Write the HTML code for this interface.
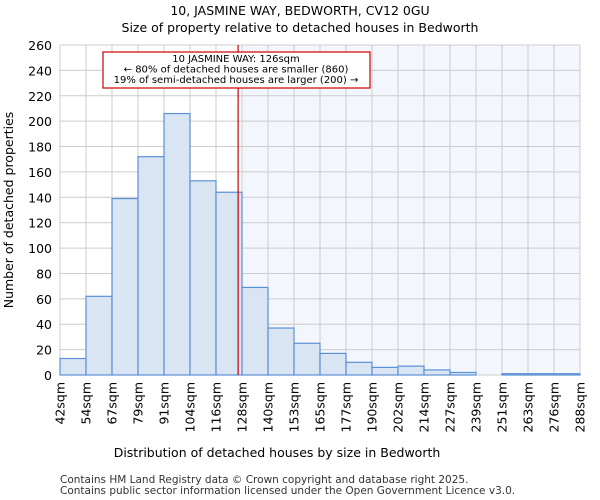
<!DOCTYPE html>
<html><head><meta charset="utf-8"><style>
body{margin:0;background:#fff}
svg{font-family:"DejaVu Sans","Liberation Sans",sans-serif;display:block}
</style></head><body>
<svg id="chart" width="600" height="500" xmlns="http://www.w3.org/2000/svg">
<text x="300" y="15" text-anchor="middle" font-size="12.5">10, JASMINE WAY, BEDWORTH, CV12 0GU</text>
<text x="300" y="32" text-anchor="middle" font-size="12.5">Size of property relative to detached houses in Bedworth</text>
<g id="plot"></g>
<text x="277" y="457" text-anchor="middle" font-size="12.5">Distribution of detached houses by size in Bedworth</text>
<text transform="translate(13,210) rotate(-90)" text-anchor="middle" font-size="12.5">Number of detached properties</text>
<text x="60" y="483" font-size="10.5" fill="#333">Contains HM Land Registry data © Crown copyright and database right 2025.</text>
<text x="60" y="494" font-size="10.5" fill="#333">Contains public sector information licensed under the Open Government Licence v3.0.</text>
</svg>
<script>
const categories=["42sqm","54sqm","67sqm","79sqm","91sqm","104sqm","116sqm","128sqm","140sqm","153sqm","165sqm","177sqm","190sqm","202sqm","214sqm","227sqm","239sqm","251sqm","263sqm","276sqm","288sqm"];
const counts=[13,62,139,172,206,153,144,69,37,25,17,10,6,7,4,2,0,1,1,1];
const yTicks=[0,20,40,60,80,100,120,140,160,180,200,220,240,260];
const propertyBinPos=6.85;
const NS="http://www.w3.org/2000/svg";
const L=60,R=580,T=45,B=375,yMax=260;
const bw=(R-L)/counts.length;
const xs=i=>L+i*bw;
const ys=v=>B-v/yMax*(B-T);
const g=document.getElementById('plot');
function mk(t,a){const e=document.createElementNS(NS,t);for(const k in a)e.setAttribute(k,a[k]);g.appendChild(e);return e;}
const px=xs(propertyBinPos);
let e=mk('rect',{x:xs(7),y:T,width:R-xs(7),height:B-T,fill:'#f3f6fd'});


yTicks.forEach(v=>{
 let l=mk('line',{x1:L,x2:R,y1:ys(v),y2:ys(v),stroke:'#cccccc'});
 
 
 let t=mk('text',{x:L-8,y:ys(v)+5,'text-anchor':'end','font-size':12.5});
 t.textContent=v;
 
 
});
categories.forEach((c,i)=>{
 let l=mk('line',{x1:xs(i),x2:xs(i),y1:T,y2:B,stroke:'#cccccc'});
 
 
 let t=mk('text',{transform:`translate(${xs(i)+4.5},382) rotate(-90)`,'text-anchor':'end','font-size':12.5});
 t.textContent=c;
 
 
});
counts.forEach((v,i)=>{
 let r=mk('rect',{x:xs(i),y:ys(v),width:bw,height:B-ys(v),fill:'#dae5f3',stroke:'#5b8fd6','stroke-width':1.2});
 
 
});
let ln=mk('line',{x1:px,x2:px,y1:T,y2:B,stroke:'#cc0000','stroke-width':1.2});


let bx=mk('rect',{x:103,y:52,width:267,height:36,fill:'#fff',stroke:'#cc0000','stroke-width':1.2});


["10 JASMINE WAY: 126sqm","← 80% of detached houses are smaller (860)","19% of semi-detached houses are larger (200) →"].forEach((s,i)=>{
 let t=mk('text',{x:236,y:62+i*10.5,'text-anchor':'middle','font-size':10,'textLength':i==0?null:null});
 t.removeAttribute('textLength');
 t.textContent=s;
 
 
});
</script>
</body></html>
